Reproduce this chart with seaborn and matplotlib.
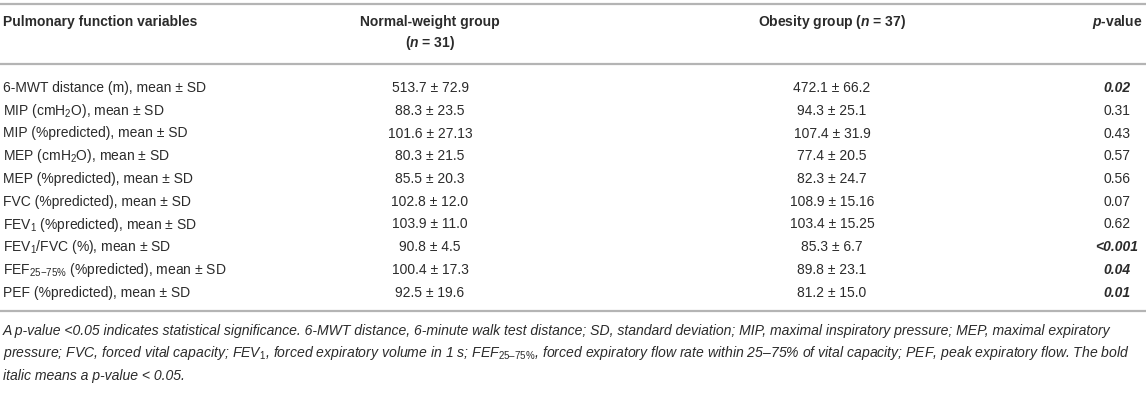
import matplotlib
matplotlib.use("Agg")
import matplotlib.pyplot as plt
import seaborn as sns

# table content
variables = [
    "6-MWT distance (m), mean ± SD",
    "MIP (cmH$_2$O), mean ± SD",
    "MIP (%predicted), mean ± SD",
    "MEP (cmH$_2$O), mean ± SD",
    "MEP (%predicted), mean ± SD",
    "FVC (%predicted), mean ± SD",
    "FEV$_1$ (%predicted), mean ± SD",
    "FEV$_1$/FVC (%), mean ± SD",
    "FEF$_{\\text{25\u221275%}}$ (%predicted), mean ± SD",
    "PEF (%predicted), mean ± SD",
]
normal_mean = ["513.7", "88.3", "101.6", "80.3", "85.5", "102.8", "103.9", "90.8", "100.4", "92.5"]
normal_sd = ["72.9", "23.5", "27.13", "21.5", "20.3", "12.0", "11.0", "4.5", "17.3", "19.6"]
obese_mean = ["472.1", "94.3", "107.4", "77.4", "82.3", "108.9", "103.4", "85.3", "89.8", "81.2"]
obese_sd = ["66.2", "25.1", "31.9", "20.5", "24.7", "15.16", "15.25", "6.7", "23.1", "15.0"]
p_values = ["0.02", "0.31", "0.43", "0.57", "0.56", "0.07", "0.62", "<0.001", "0.04", "0.01"]
significant = [True, False, False, False, False, False, False, True, True, True]

headers = ["Pulmonary function variables", "Normal-weight group", "($\\mathbfit{n}$ = 31)",
           "Obesity group ($\\mathbfit{n}$ = 37)", "$\\mathbfit{p}$-value"]

footnote = [
    "A p-value <0.05 indicates statistical significance. 6-MWT distance, 6-minute walk test distance; SD, standard deviation; MIP, maximal inspiratory pressure; MEP, maximal expiratory",
    "pressure; FVC, forced vital capacity; FEV$_1$, forced expiratory volume in 1 s; FEF$_{\\text{25\u201375%}}$, forced expiratory flow rate within 25\u201375% of vital capacity; PEF, peak expiratory flow. The bold",
    "italic means a p-value < 0.05.",
]

sns.set_theme(style="white")
plt.rcParams["font.family"] = ["Liberation Sans", "DejaVu Sans"]
plt.rcParams["mathtext.fontset"] = "custom"
plt.rcParams["mathtext.rm"] = "Liberation Sans"
plt.rcParams["mathtext.it"] = "Liberation Sans:italic"
plt.rcParams["mathtext.bf"] = "Liberation Sans:bold"
plt.rcParams["mathtext.bfit"] = "Liberation Sans:italic:bold"

W, H = 1146, 416
fig = plt.figure(figsize=(W / 100, H / 100), dpi=100)
ax = fig.add_axes([0, 0, 1, 1])
ax.set_xlim(0, W)
ax.set_ylim(H, 0)
ax.axis("off")

txt = "#2b2b2b"
rule = "#b4b4b4"
fs = 10

col_x = [3, 430, 832, 1117]

# rules
for y in [3.5, 64, 311]:
    ax.axhline(y, color=rule, lw=1.6)

# header
ax.text(col_x[0], 22, headers[0], ha="left", va="center", fontsize=fs, fontweight="bold", color=txt)
ax.text(col_x[1], 22, headers[1], ha="center", va="center", fontsize=fs, fontweight="bold", color=txt)
ax.text(col_x[1], 43, headers[2], ha="center", va="center", fontsize=fs, fontweight="bold", color=txt)
ax.text(col_x[2], 22, headers[3], ha="center", va="center", fontsize=fs, fontweight="bold", color=txt)
ax.text(1142, 22, headers[4], ha="right", va="center", fontsize=fs, fontweight="bold", color=txt)

# body
y0, dy = 88, 22.75
for i, var in enumerate(variables):
    y = y0 + i * dy
    ax.text(col_x[0], y, var, ha="left", va="center", fontsize=fs, color=txt)
    ax.text(col_x[1], y, f"{normal_mean[i]} ± {normal_sd[i]}", ha="center", va="center", fontsize=fs, color=txt)
    ax.text(col_x[2], y, f"{obese_mean[i]} ± {obese_sd[i]}", ha="center", va="center", fontsize=fs, color=txt)
    if significant[i]:
        ax.text(col_x[3], y, p_values[i], ha="center", va="center", fontsize=fs, color=txt,
                fontweight="bold", fontstyle="italic")
    else:
        ax.text(col_x[3], y, p_values[i], ha="center", va="center", fontsize=fs, color=txt)

# footnote
for j, line in enumerate(footnote):
    ax.text(col_x[0], 331 + j * 22.5, line, ha="left", va="center", fontsize=10.1,
            fontstyle="italic", color=txt)

fig.savefig("out.png", dpi=100)
